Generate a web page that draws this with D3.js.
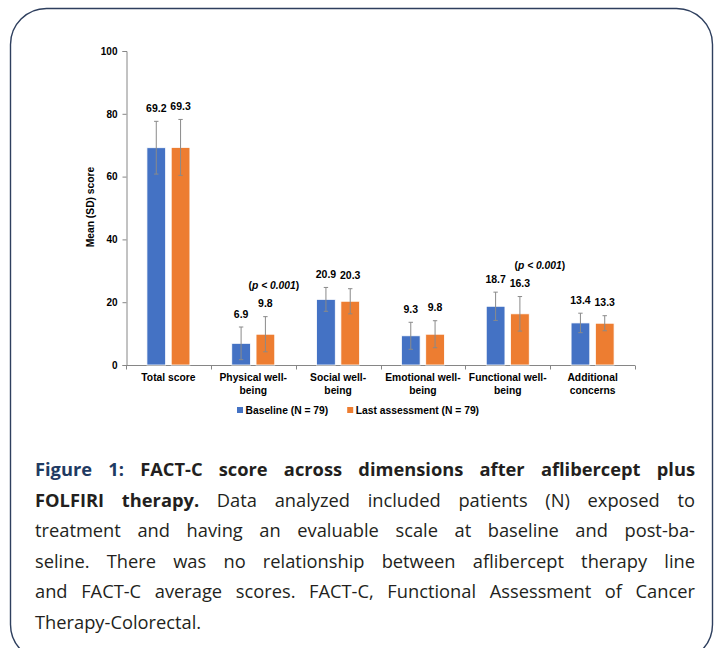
<!DOCTYPE html>
<html>
<head>
<meta charset="utf-8">
<script src="https://cdn.jsdelivr.net/npm/d3@7"></script>
<style>
  body { margin: 0; background: #fff; }
  svg { display: block; }
</style>
</head>
<body>
<div id="chart"></div>
<script>
// chart values
var categories = ["Total score", "Physical well-being", "Social well-being",
                  "Emotional well-being", "Functional well-being", "Additional concerns"];
var categoryLines = [["Total score"], ["Physical well-", "being"], ["Social well-", "being"],
                     ["Emotional well-", "being"], ["Functional well-", "being"], ["Additional", "concerns"]];
var seriesNames = ["Baseline (N = 79)", "Last assessment (N = 79)"];
var baselineMean = [69.2, 6.9, 20.9, 9.3, 18.7, 13.4];
var baselineSD   = [8.4, 5.2, 3.8, 4.3, 4.5, 3.1];
var lastMean     = [69.3, 9.8, 20.3, 9.8, 16.3, 13.3];
var lastSD       = [8.9, 5.6, 4.0, 4.3, 5.5, 2.4];
var yTicks = [0, 20, 40, 60, 80, 100];
var pNotes = [{cat: "Physical well-being", p: "0.001"}, {cat: "Functional well-being", p: "0.001"}];

var colors = ["#4472C4", "#ED7D31"];
var chartFont = "'Liberation Sans', Arial, sans-serif";

var svgWidth = 717, svgHeight = 648;
var svg = d3.select("#chart").append("svg")
  .attr("width", svgWidth)
  .attr("height", svgHeight);

// rounded frame
svg.append("rect")
  .attr("x", 10.5).attr("y", 8.5)
  .attr("width", 702).attr("height", 652)
  .attr("rx", 36).attr("ry", 36)
  .attr("fill", "#fff")
  .attr("stroke", "#2e3f5e")
  .attr("stroke-width", 1.4);

// scales
var x0 = d3.scaleBand().domain(categories).range([126, 635]).padding(0);
var x1 = d3.scaleBand().domain([0, 1])
  .range([x0.bandwidth() / 2 - 21.5, x0.bandwidth() / 2 + 21.5])
  .paddingInner(0.23);
var y = d3.scaleLinear().domain([0, 100]).range([365, 51]);

// table of bars
var rows = [];
categories.forEach(function(c, i) {
  rows.push({cat: c, s: 0, mean: baselineMean[i], sd: baselineSD[i]});
  rows.push({cat: c, s: 1, mean: lastMean[i], sd: lastSD[i]});
});

var g = svg.append("g").style("font-family", chartFont);

// y axis
var leftAxis = d3.axisLeft(y).tickValues(yTicks).tickSize(4).tickPadding(5);
var yAxisG = g.append("g").attr("transform", "translate(126.5,0)").call(leftAxis);
yAxisG.select(".domain").attr("stroke", "#868686");
yAxisG.selectAll(".tick line").attr("stroke", "#868686");
yAxisG.selectAll(".tick text")
  .attr("fill", "#000").style("font-size", "10px").style("font-weight", "bold")
  .style("font-family", chartFont);

// x axis line with ticks at category boundaries
var bottomY = y(0) + 0.5;
g.append("line")
  .attr("x1", x0.range()[0]).attr("x2", x0.range()[1])
  .attr("y1", bottomY).attr("y2", bottomY)
  .attr("stroke", "#868686");
d3.range(categories.length + 1).forEach(function(i) {
  var xx = Math.round(x0.range()[0] + i * x0.step()) + 0.5;
  g.append("line")
    .attr("x1", xx).attr("x2", xx)
    .attr("y1", bottomY).attr("y2", bottomY + 4)
    .attr("stroke", "#868686");
});

// category labels
categories.forEach(function(c, i) {
  var t = g.append("text")
    .attr("x", x0(c) + x0.bandwidth() / 2)
    .attr("y", 381)
    .attr("text-anchor", "middle")
    .style("font-size", "10.3px").style("font-weight", "bold");
  categoryLines[i].forEach(function(line, k) {
    t.append("tspan")
      .attr("x", x0(c) + x0.bandwidth() / 2)
      .attr("dy", k === 0 ? 0 : 12.8)
      .text(line);
  });
});

// y axis title
g.append("text")
  .attr("transform", "translate(94,207) rotate(-90)")
  .attr("text-anchor", "middle")
  .style("font-size", "10.3px").style("font-weight", "bold")
  .text("Mean (SD) score");

// bars
g.selectAll(".bar").data(rows).enter().append("rect")
  .attr("class", "bar")
  .attr("x", function(d) { return x0(d.cat) + x1(d.s); })
  .attr("y", function(d) { return y(d.mean); })
  .attr("width", x1.bandwidth())
  .attr("height", function(d) { return y(0) - y(d.mean); })
  .attr("fill", function(d) { return colors[d.s]; })
  .attr("stroke", "#ffffff")
  .attr("stroke-width", 0.8);

// error bars
function cx(d) { return x0(d.cat) + x1(d.s) + x1.bandwidth() / 2; }
var err = g.selectAll(".err").data(rows).enter().append("g")
  .attr("class", "err")
  .attr("stroke", "#8a8a8a").attr("stroke-width", 1);
err.append("line")
  .attr("x1", cx).attr("x2", cx)
  .attr("y1", function(d) { return y(d.mean + d.sd); })
  .attr("y2", function(d) { return y(d.mean - d.sd); });
[1, -1].forEach(function(sign) {
  err.append("line")
    .attr("x1", function(d) { return cx(d) - 2.2; })
    .attr("x2", function(d) { return cx(d) + 2.2; })
    .attr("y1", function(d) { return y(d.mean + sign * d.sd); })
    .attr("y2", function(d) { return y(d.mean + sign * d.sd); });
});

// value labels
g.selectAll(".val").data(rows).enter().append("text")
  .attr("class", "val")
  .attr("x", cx)
  .attr("y", function(d) { return y(d.mean + d.sd) - 9.5; })
  .attr("text-anchor", "middle")
  .style("font-size", "10.5px").style("font-weight", "bold")
  .text(function(d) { return d.mean.toFixed(1); });

// p-value notes (hand placed in the original, so nudged a bit)
var pShift = {"Physical well-being": 8.5, "Functional well-being": 20};
pNotes.forEach(function(n) {
  var i = categories.indexOf(n.cat);
  var d = {cat: n.cat, s: 1};
  var t = g.append("text")
    .attr("x", cx(d) + pShift[n.cat])
    .attr("y", y(lastMean[i] + lastSD[i]) - 28)
    .attr("text-anchor", "middle")
    .style("font-size", "10.3px").style("font-weight", "bold");
  t.append("tspan").text("(");
  t.append("tspan").style("font-style", "italic").text("p < " + n.p);
  t.append("tspan").text(")");
});

// legend
var legX = 237, legY = 410;
seriesNames.forEach(function(name, i) {
  g.append("rect")
    .attr("x", legX).attr("y", legY - 3)
    .attr("width", 6).attr("height", 6)
    .attr("fill", colors[i]);
  var t = g.append("text")
    .attr("x", legX + 8.5).attr("y", legY)
    .attr("dy", "0.35em")
    .style("font-size", "10.3px").style("font-weight", "bold")
    .text(name);
  legX = legX + 8.5 + t.node().getComputedTextLength() + 19;
});

// caption, justified like the journal layout
var captionLines = [
  [["Figure 1:", "fig"], ["FACT-C score across dimensions after aflibercept plus", "b"]],
  [["FOLFIRI therapy.", "b"], ["Data analyzed included patients (N) exposed to", "r"]],
  [["treatment and having an evaluable scale at baseline and post-ba-", "r"]],
  [["seline. There was no relationship between aflibercept therapy line", "r"]],
  [["and FACT-C average scores. FACT-C, Functional Assessment of Cancer", "r"]],
  [["Therapy-Colorectal.", "r"]]
];
var capLeft = 35, capRight = 695, capTop = 476, capStep = 30.5;
var capFont = "'Open Sans', Lato, sans-serif";
var cap = svg.append("g").style("font-family", capFont).style("font-size", "18.3px");

captionLines.forEach(function(line, li) {
  var words = [];
  line.forEach(function(run) {
    run[0].split(" ").forEach(function(w) { words.push({w: w, st: run[1]}); });
  });
  var yy = capTop + li * capStep;
  var nodes = words.map(function(wd) {
    return cap.append("text")
      .attr("y", yy)
      .attr("fill", wd.st === "fig" ? "#1f3b63" : "#231f20")
      .style("font-weight", wd.st === "r" ? "normal" : "bold")
      .text(wd.w);
  });
  var widths = nodes.map(function(n) { return n.node().getComputedTextLength(); });
  var total = d3.sum(widths);
  var last = li === captionLines.length - 1;
  var gap = last ? 4.5 : Math.max(2.5, (capRight - capLeft - total) / (words.length - 1));
  var xx = capLeft;
  nodes.forEach(function(n, k) {
    n.attr("x", xx);
    xx += widths[k] + gap;
  });
});
</script>
</body>
</html>
